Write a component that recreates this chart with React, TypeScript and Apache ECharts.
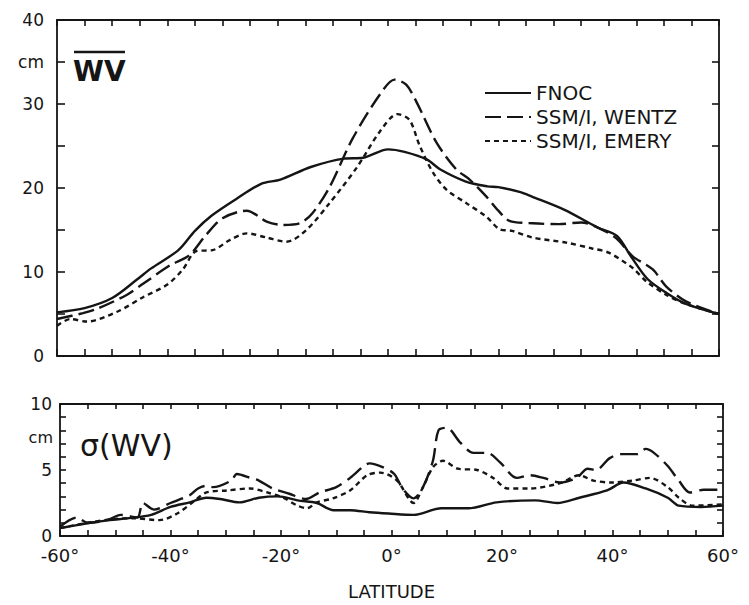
import { useEffect, useRef } from 'react';
import * as echarts from 'echarts';

// ---------- Top panel: mean water vapour (cm) ----------
const wvFnocLat = [-60, -55, -50, -45.5, -43, -38, -35, -32, -27.5, -23, -19.5, -14, -8, -4.5, 0, 3, 7, 9.5, 14, 18, 20, 24, 26, 32, 38, 41.5, 44, 47, 50.5, 54, 60];
const wvFnocVal = [5.2, 5.7, 6.9, 9.1, 10.4, 12.6, 14.9, 16.7, 18.7, 20.5, 21.0, 22.5, 23.5, 23.6, 24.6, 24.3, 23.4, 22.2, 20.8, 20.2, 20.1, 19.5, 19.0, 17.4, 15.3, 14.3, 11.9, 9.2, 7.5, 6.2, 5.0];

const wvWentzLat = [-60, -55.3, -52.8, -47.3, -44.4, -39.5, -36, -33, -30, -25.6, -22, -19, -16, -13.7, -10.6, -6.4, -1.5, 1.2, 3.3, 5.2, 8.8, 12.4, 14.8, 17.8, 20, 22, 26.2, 31, 35, 38.3, 41.4, 44.3, 48, 50.4, 54, 60];
const wvWentzVal = [4.4, 5.1, 5.6, 7.3, 8.6, 10.8, 12.0, 14.4, 16.4, 17.3, 16.0, 15.6, 15.8, 17.0, 20.1, 25.9, 31.1, 32.9, 32.3, 30.2, 25.4, 22.2, 21.0, 19.0, 17.3, 16.1, 15.8, 15.7, 15.9, 15.2, 14.0, 11.9, 10.3, 8.3, 6.5, 5.0];

const wvEmeryLat = [-60, -57.6, -54.6, -49, -44.4, -40, -37.2, -34.7, -31.8, -28.7, -25.6, -22, -18.4, -14.8, -10.6, -5.7, -1.5, 1.7, 3.9, 5.7, 8.1, 10.6, 14.2, 17.8, 20.2, 22.5, 26.2, 32.3, 37, 40, 44.3, 46.8, 50.4, 54, 60];
const wvEmeryVal = [3.6, 4.4, 4.1, 5.3, 7.0, 8.5, 10.3, 12.5, 12.6, 13.8, 14.6, 14.1, 13.6, 15.0, 18.2, 22.4, 26.7, 28.8, 28.1, 25.1, 21.9, 19.8, 18.2, 16.6, 15.1, 14.9, 14.1, 13.5, 12.8, 12.3, 10.5, 8.9, 7.3, 6.2, 5.0];

// ---------- Bottom panel: sigma(WV) (cm) ----------
const sdFnocLat = [-60, -58, -54.5, -51, -47.5, -43.5, -40, -36.5, -33.5, -31, -27.5, -24, -20.5, -17, -13.5, -10.5, -7.5, -4, -0.5, 4, 9, 14, 19, 26, 30, 34, 39, 42, 46, 50, 52, 56, 60];
const sdFnocVal = [0.6, 0.75, 1.0, 1.2, 1.35, 1.6, 2.2, 2.55, 2.9, 2.8, 2.55, 2.9, 3.0, 2.7, 2.5, 1.95, 1.95, 1.8, 1.7, 1.6, 2.1, 2.1, 2.55, 2.7, 2.5, 2.9, 3.45, 4.05, 3.6, 2.9, 2.3, 2.2, 2.3];

const sdWentzLat = [-60, -57, -55, -51.5, -49, -46, -45, -43, -40, -36.5, -35, -33.5, -32.3, -29, -28, -25.5, -24, -21.5, -18.5, -15.5, -13, -10, -7.5, -5, -4, -1.5, 0.5, 2, 4, 5.7, 7.5, 8.5, 10, 12.4, 14.8, 17.3, 19.6, 22.7, 25, 27.5, 30.5, 33.5, 35.5, 37, 39.5, 41.5, 44.5, 46, 47.5, 50, 52, 54, 56.5, 60];
const sdWentzVal = [0.7, 1.4, 1.0, 1.2, 1.6, 1.4, 2.5, 2.0, 2.5, 3.1, 3.6, 3.8, 3.7, 4.2, 4.7, 4.4, 4.2, 3.6, 3.2, 2.8, 3.3, 3.7, 4.4, 5.3, 5.5, 5.2, 4.7, 3.6, 2.85, 3.7, 5.7, 8.0, 8.2, 7.1, 6.3, 6.3, 5.6, 4.4, 4.6, 4.4, 4.05, 4.4, 5.1, 5.0, 5.9, 6.2, 6.2, 6.6, 6.3, 5.3, 4.2, 3.3, 3.5, 3.5];

const sdEmeryLat = [-60, -55, -50, -46.8, -42, -38.8, -36, -33.5, -29.8, -25.6, -22.5, -19.6, -17, -15.3, -13.5, -10.6, -7.5, -4.4, -2, 1, 4, 5.7, 7.5, 9.3, 12, 15.5, 18.4, 21, 25, 30.5, 34, 36.5, 40, 43.7, 46.8, 50, 52, 54.5, 60];
const sdEmeryVal = [0.6, 1.0, 1.3, 1.35, 1.2, 1.7, 2.55, 3.3, 3.45, 3.6, 3.3, 2.9, 2.3, 2.1, 2.55, 2.85, 3.45, 4.6, 4.8, 4.2, 2.5, 3.7, 5.2, 5.7, 5.1, 5.0, 4.4, 3.6, 3.6, 4.0, 4.6, 4.2, 4.05, 4.2, 4.4, 3.7, 2.9, 2.3, 2.4];

const seriesNames = ['FNOC', 'SSM/I, WENTZ', 'SSM/I, EMERY'];
const topYLabels: Record<number, string> = { 0: '0', 10: '10', 20: '20', 30: '30', 35: 'cm', 40: '40' };
const bottomYLabels: Record<number, string> = { 0: '0', 5: '5', 10: '10' };

const ink = '#151515';
const font = 'DejaVu Sans';

const pair = (lat: number[], val: number[]) => lat.map((l, i) => [l, val[i]]);

const mkLine = () => ({ onZero: false, lineStyle: { color: ink, width: 1.8 } });
const mkTick = (len: number) => ({ show: true, inside: true, length: len, lineStyle: { color: ink, width: 1.6 } });

const mkX = (grid: number, position: 'top' | 'bottom', len: number, labels: boolean): any => {
  const ax: any = {
    type: 'value', gridIndex: grid, min: -60, max: 60, interval: 5, position,
    axisLine: mkLine(), axisTick: mkTick(len), splitLine: { show: false },
    axisLabel: labels
      ? { show: true, margin: 10, fontSize: 18, color: ink, fontFamily: font, formatter: (v: number) => (v % 20 === 0 ? `${v}°` : '') }
      : { show: false },
  };
  if (labels) {
    ax.name = 'LATITUDE';
    ax.nameLocation = 'middle';
    ax.nameGap = 46;
    ax.nameTextStyle = { fontSize: 18, color: ink, fontFamily: font };
  }
  return ax;
};

const mkY = (grid: number, position: 'left' | 'right', max: number, interval: number, len: number, labels?: Record<number, string>, margin = 8): any => ({
  type: 'value', gridIndex: grid, min: 0, max, interval, position,
  axisLine: mkLine(), axisTick: mkTick(len), splitLine: { show: false },
  axisLabel: labels
    ? { show: true, margin, fontSize: 17, color: ink, fontFamily: font, formatter: (v: number) => labels[v] ?? '' }
    : { show: false },
});

export default function App() {
  const ref = useRef<HTMLDivElement>(null);
  useEffect(() => {
    if (!ref.current) return;
    const chart = echarts.init(ref.current, undefined, { renderer: 'svg' });
    const lineSeries = (name: string, data: number[][], idx: number, type: any) => ({
      name, type: 'line', data, xAxisIndex: idx * 2, yAxisIndex: idx * 2,
      symbol: 'none', smooth: 0.3, silent: true,
      lineStyle: { color: ink, width: 2.4, type },
      itemStyle: { color: ink },
    });
    chart.setOption({
      animation: false,
      backgroundColor: '#ffffff',
      textStyle: { fontFamily: font, color: ink },
      grid: [
        { left: 57, right: 30, top: 20, height: 336 },
        { left: 60, right: 26, top: 404, height: 132 },
      ],
      legend: {
        data: seriesNames,
        orient: 'vertical',
        left: 479,
        top: 78,
        itemWidth: 46,
        itemHeight: 12,
        itemGap: 4,
        itemStyle: { opacity: 0 },
        textStyle: { fontFamily: font, fontSize: 20, color: ink },
        selectedMode: false,
      },
      xAxis: [
        mkX(0, 'bottom', 7, false),
        mkX(0, 'top', 6, false),
        mkX(1, 'bottom', 6, true),
        mkX(1, 'top', 5, false),
      ],
      yAxis: [
        mkY(0, 'left', 40, 5, 8, topYLabels, 13),
        mkY(0, 'right', 40, 5, 7),
        mkY(1, 'left', 10, 1, 6, bottomYLabels, 8),
        mkY(1, 'right', 10, 1, 6),
      ],
      series: [
        lineSeries(seriesNames[0], pair(wvFnocLat, wvFnocVal), 0, 'solid'),
        lineSeries(seriesNames[1], pair(wvWentzLat, wvWentzVal), 0, [16, 6]),
        lineSeries(seriesNames[2], pair(wvEmeryLat, wvEmeryVal), 0, [5, 4]),
        lineSeries(seriesNames[0], pair(sdFnocLat, sdFnocVal), 1, 'solid'),
        lineSeries(seriesNames[1], pair(sdWentzLat, sdWentzVal), 1, [18, 7]),
        lineSeries(seriesNames[2], pair(sdEmeryLat, sdEmeryVal), 1, [5, 4]),
      ],
      graphic: [
        { type: 'text', left: 73, top: 57, style: { text: 'WV', font: `bold 28px "${font}"`, fill: ink } },
        { type: 'line', shape: { x1: 74, y1: 52, x2: 125, y2: 52 }, style: { stroke: ink, lineWidth: 2.5 } },
        { type: 'text', left: 80, top: 430, style: { text: 'σ(WV)', font: `30px "${font}"`, fill: ink } },
        { type: 'text', right: 749 - 53, top: 429, style: { text: 'cm', font: `16px "${font}"`, fill: ink } },
      ],
    });
    return () => chart.dispose();
  }, []);
  return (
    <div
      ref={ref}
      style={{ position: 'fixed', left: 0, top: 0, width: 749, height: 605, background: '#fff' }}
    />
  );
}
